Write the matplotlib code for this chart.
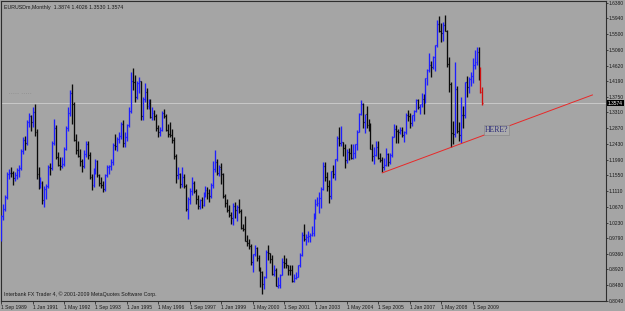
import matplotlib.pyplot as plt
import matplotlib.transforms as mtransforms
import numpy as np
import pandas as pd

# EURUSD monthly bars, Sep 1989 .. Feb 2010
first_month = "1989-09-01"

opens = [
    0.985, 1.040, 1.062, 1.095,
    1.158, 1.163, 1.162, 1.148, 1.157, 1.170, 1.175, 1.222, 1.255, 1.245, 1.303, 1.320,
    1.304, 1.332, 1.275, 1.158, 1.132, 1.135, 1.085, 1.118, 1.125, 1.178, 1.175, 1.245,
    1.287, 1.207, 1.185, 1.180, 1.187, 1.230, 1.287, 1.330, 1.385, 1.355, 1.255, 1.225,
    1.210, 1.195, 1.180, 1.215, 1.243, 1.212, 1.150, 1.128, 1.168, 1.195, 1.155, 1.135,
    1.128, 1.118, 1.155, 1.178, 1.180, 1.192, 1.240, 1.238, 1.258, 1.265, 1.300, 1.245,
    1.262, 1.295, 1.335, 1.418, 1.415, 1.375, 1.412, 1.418, 1.320, 1.368, 1.387, 1.349,
    1.363, 1.318, 1.330, 1.322, 1.287, 1.275, 1.283, 1.330, 1.322, 1.283, 1.270, 1.268,
    1.255, 1.208, 1.155, 1.158, 1.130, 1.150, 1.124, 1.062, 1.088, 1.110, 1.135, 1.112,
    1.088, 1.070, 1.085, 1.072, 1.100, 1.115, 1.105, 1.098, 1.128, 1.172, 1.192, 1.162,
    1.1790, 1.1575, 1.0985, 1.0770, 1.0575, 1.0430, 1.0345, 1.0695, 1.0590, 1.0660, 1.0565, 1.0085,
    1.0040, 0.9705, 0.9650, 0.9570, 0.9115, 0.9345, 0.9525, 0.9225, 0.8890, 0.8835, 0.8500, 0.8695,
    0.9395, 0.9370, 0.9220, 0.8785, 0.8895, 0.8465, 0.8485, 0.8765, 0.9120, 0.9110, 0.9045, 0.8905,
    0.8900, 0.8595, 0.8690, 0.8720, 0.9030, 0.9330, 0.9885, 0.9775, 0.9825, 0.9865, 0.9880, 0.9925,
    1.0485, 1.0740, 1.0785, 1.0910, 1.1170, 1.1805, 1.1505, 1.1240, 1.0975, 1.1660, 1.1580, 1.1995,
    1.2595, 1.2460, 1.2470, 1.2315, 1.1975, 1.2195, 1.2175, 1.2025, 1.2170, 1.2435, 1.2760, 1.3260,
    1.3555, 1.3035, 1.3255, 1.2960, 1.2880, 1.2300, 1.2095, 1.2125, 1.2335, 1.2025, 1.1990, 1.1790,
    1.1840, 1.2155, 1.1920, 1.2120, 1.2625, 1.2835, 1.2790, 1.2765, 1.2810, 1.2675, 1.2760, 1.3250,
    1.3200, 1.3005, 1.3225, 1.3355, 1.3655, 1.3450, 1.3540, 1.3690, 1.3620, 1.4265, 1.4485, 1.4635,
    1.4585, 1.4860, 1.5185, 1.5785, 1.5600, 1.5545, 1.5760, 1.5600, 1.4670, 1.4095, 1.2735, 1.2700,
    1.3970, 1.2800, 1.2670, 1.3250, 1.3235, 1.4150, 1.4035, 1.4255, 1.4335, 1.4640, 1.4715, 1.4995,
    1.4320, 1.3874,
]
highs = [
    1.045, 1.075, 1.100, 1.165,
    1.172, 1.178, 1.168, 1.165, 1.175, 1.185, 1.228, 1.262, 1.265, 1.310, 1.330, 1.325,
    1.345, 1.354, 1.285, 1.178, 1.150, 1.140, 1.125, 1.130, 1.185, 1.190, 1.250, 1.312,
    1.295, 1.220, 1.205, 1.205, 1.235, 1.292, 1.345, 1.395, 1.411, 1.360, 1.270, 1.250,
    1.230, 1.200, 1.225, 1.250, 1.252, 1.220, 1.160, 1.175, 1.200, 1.198, 1.160, 1.150,
    1.138, 1.160, 1.185, 1.185, 1.200, 1.245, 1.272, 1.262, 1.275, 1.305, 1.310, 1.275,
    1.300, 1.345, 1.445, 1.455, 1.435, 1.420, 1.430, 1.420, 1.375, 1.412, 1.400, 1.370,
    1.368, 1.345, 1.338, 1.328, 1.295, 1.290, 1.335, 1.342, 1.328, 1.298, 1.305, 1.285,
    1.262, 1.215, 1.178, 1.162, 1.178, 1.160, 1.130, 1.095, 1.120, 1.150, 1.140, 1.118,
    1.100, 1.090, 1.095, 1.108, 1.125, 1.122, 1.118, 1.135, 1.195, 1.225, 1.200, 1.185,
    1.1905, 1.1610, 1.1015, 1.0880, 1.0725, 1.0530, 1.0765, 1.0815, 1.0715, 1.0880, 1.0595, 1.0190,
    1.0415, 0.9880, 0.9780, 0.9640, 0.9360, 0.9600, 0.9550, 0.9315, 0.9000, 0.8885, 0.8730, 0.9470,
    0.9595, 0.9390, 0.9330, 0.9050, 0.8945, 0.8700, 0.8800, 0.9245, 0.9335, 0.9225, 0.9050, 0.9045,
    0.9030, 0.8785, 0.8855, 0.9045, 0.9385, 0.9965, 1.0195, 0.9910, 0.9985, 0.9945, 1.0140, 1.0495,
    1.0880, 1.0935, 1.1080, 1.1220, 1.1930, 1.1935, 1.1640, 1.1425, 1.1670, 1.1835, 1.2015, 1.2645,
    1.2900, 1.2930, 1.2480, 1.2425, 1.2285, 1.2325, 1.2430, 1.2415, 1.2435, 1.2810, 1.3305, 1.3665,
    1.3585, 1.3275, 1.3485, 1.3125, 1.3010, 1.2420, 1.2330, 1.2525, 1.2505, 1.2175, 1.2065, 1.2040,
    1.2320, 1.2185, 1.2185, 1.2645, 1.2980, 1.2950, 1.2845, 1.2910, 1.2915, 1.2795, 1.3285, 1.3365,
    1.3285, 1.3240, 1.3375, 1.3680, 1.3680, 1.3550, 1.3850, 1.3815, 1.4280, 1.4525, 1.4965, 1.4760,
    1.4880, 1.5210, 1.5905, 1.6020, 1.5820, 1.5840, 1.6038, 1.5615, 1.4865, 1.4165, 1.3080, 1.4719,
    1.4050, 1.3055, 1.3740, 1.3480, 1.4165, 1.4340, 1.4305, 1.4445, 1.4845, 1.5060, 1.5144, 1.5135,
    1.4580, 1.4026,
]
lows = [
    0.972, 1.030, 1.055, 1.090,
    1.145, 1.150, 1.128, 1.140, 1.145, 1.150, 1.170, 1.215, 1.225, 1.240, 1.290, 1.280,
    1.290, 1.265, 1.145, 1.118, 1.120, 1.075, 1.066, 1.090, 1.120, 1.155, 1.170, 1.240,
    1.200, 1.180, 1.170, 1.175, 1.180, 1.225, 1.280, 1.320, 1.300, 1.250, 1.215, 1.205,
    1.180, 1.165, 1.175, 1.205, 1.200, 1.145, 1.115, 1.122, 1.160, 1.150, 1.125, 1.120,
    1.108, 1.110, 1.150, 1.160, 1.170, 1.185, 1.225, 1.222, 1.245, 1.258, 1.235, 1.235,
    1.252, 1.290, 1.330, 1.395, 1.360, 1.370, 1.385, 1.310, 1.310, 1.360, 1.340, 1.340,
    1.315, 1.310, 1.310, 1.280, 1.262, 1.265, 1.278, 1.315, 1.280, 1.262, 1.262, 1.245,
    1.200, 1.135, 1.145, 1.120, 1.122, 1.120, 1.055, 1.034, 1.075, 1.100, 1.105, 1.075,
    1.062, 1.060, 1.065, 1.068, 1.095, 1.088, 1.080, 1.092, 1.120, 1.165, 1.155, 1.152,
    1.1320, 1.0920, 1.0675, 1.0530, 1.0395, 1.0185, 1.0165, 1.0355, 1.0275, 1.0485, 1.0050, 0.9995,
    0.9700, 0.9570, 0.9500, 0.9050, 0.8845, 0.9290, 0.9160, 0.8880, 0.8440, 0.8225, 0.8380, 0.8665,
    0.9180, 0.9085, 0.8770, 0.8735, 0.8445, 0.8385, 0.8410, 0.8755, 0.8970, 0.8950, 0.8760, 0.8765,
    0.8575, 0.8565, 0.8660, 0.8700, 0.8990, 0.9285, 0.9700, 0.9610, 0.9690, 0.9695, 0.9860, 0.9860,
    1.0335, 1.0690, 1.0500, 1.0625, 1.1130, 1.1400, 1.1100, 1.0765, 1.0895, 1.1470, 1.1410, 1.1955,
    1.2380, 1.2360, 1.2085, 1.1760, 1.1905, 1.1990, 1.2010, 1.2005, 1.2045, 1.2265, 1.2750, 1.3240,
    1.2865, 1.2725, 1.2875, 1.2800, 1.2300, 1.1955, 1.1865, 1.2105, 1.2000, 1.1915, 1.1640, 1.1700,
    1.1800, 1.1820, 1.1880, 1.2065, 1.2630, 1.2455, 1.2455, 1.2705, 1.2620, 1.2480, 1.2705, 1.3080,
    1.2865, 1.2935, 1.3065, 1.3310, 1.3410, 1.3255, 1.3475, 1.3260, 1.3580, 1.4075, 1.4440, 1.4310,
    1.4515, 1.4470, 1.5150, 1.5550, 1.5285, 1.5300, 1.5590, 1.4580, 1.3880, 1.2330, 1.2420, 1.2625,
    1.2740, 1.2500, 1.2455, 1.2885, 1.3160, 1.3745, 1.3845, 1.4050, 1.4130, 1.4515, 1.4640, 1.4215,
    1.3860, 1.3530,
]
closes = [
    1.040, 1.062, 1.095, 1.158,
    1.163, 1.162, 1.148, 1.157, 1.170, 1.175, 1.222, 1.255, 1.245, 1.303, 1.320, 1.304,
    1.332, 1.275, 1.158, 1.132, 1.135, 1.085, 1.118, 1.125, 1.178, 1.175, 1.245, 1.287,
    1.207, 1.185, 1.180, 1.187, 1.230, 1.287, 1.330, 1.385, 1.355, 1.255, 1.225, 1.210,
    1.195, 1.180, 1.215, 1.243, 1.212, 1.150, 1.128, 1.168, 1.195, 1.155, 1.135, 1.128,
    1.118, 1.155, 1.178, 1.180, 1.192, 1.240, 1.238, 1.258, 1.265, 1.300, 1.245, 1.262,
    1.295, 1.335, 1.418, 1.415, 1.375, 1.412, 1.418, 1.320, 1.368, 1.387, 1.349, 1.363,
    1.318, 1.330, 1.322, 1.287, 1.275, 1.283, 1.330, 1.322, 1.283, 1.270, 1.268, 1.255,
    1.208, 1.155, 1.158, 1.130, 1.150, 1.124, 1.062, 1.088, 1.110, 1.135, 1.112, 1.088,
    1.070, 1.085, 1.072, 1.100, 1.115, 1.105, 1.098, 1.128, 1.172, 1.192, 1.162, 1.172,
    1.1575, 1.0985, 1.0770, 1.0575, 1.0430, 1.0345, 1.0695, 1.0590, 1.0660, 1.0565, 1.0085, 1.0040,
    0.9705, 0.9650, 0.9570, 0.9115, 0.9345, 0.9525, 0.9225, 0.8890, 0.8835, 0.8500, 0.8695, 0.9395,
    0.9370, 0.9220, 0.8785, 0.8895, 0.8465, 0.8485, 0.8765, 0.9120, 0.9110, 0.9045, 0.8905, 0.8900,
    0.8595, 0.8690, 0.8720, 0.9030, 0.9330, 0.9885, 0.9775, 0.9825, 0.9865, 0.9880, 0.9925, 1.0485,
    1.0740, 1.0785, 1.0910, 1.1170, 1.1805, 1.1505, 1.1240, 1.0975, 1.1660, 1.1580, 1.1995, 1.2595,
    1.2460, 1.2470, 1.2315, 1.1975, 1.2195, 1.2175, 1.2025, 1.2170, 1.2435, 1.2760, 1.3260, 1.3555,
    1.3035, 1.3255, 1.2960, 1.2880, 1.2300, 1.2095, 1.2125, 1.2335, 1.2025, 1.1990, 1.1790, 1.1840,
    1.2155, 1.1920, 1.2120, 1.2625, 1.2835, 1.2790, 1.2765, 1.2810, 1.2675, 1.2760, 1.3250, 1.3200,
    1.3005, 1.3225, 1.3355, 1.3655, 1.3450, 1.3540, 1.3690, 1.3620, 1.4265, 1.4485, 1.4635, 1.4585,
    1.4860, 1.5185, 1.5785, 1.5600, 1.5545, 1.5760, 1.5600, 1.4670, 1.4095, 1.2735, 1.2700, 1.3970,
    1.2800, 1.2670, 1.3250, 1.3235, 1.4150, 1.4035, 1.4255, 1.4335, 1.4640, 1.4715, 1.4995, 1.4320,
    1.3870, 1.3574,
]

# price scale labels on the right
price_labels = ["1.6380", "1.5940", "1.5500", "1.5060", "1.4620", "1.4190", "1.3750",
                "1.3310", "1.2870", "1.2430", "1.1990", "1.1550", "1.1110", "1.0670",
                "1.0230", "0.9790", "0.9360", "0.8920", "0.8480", "0.8040"]
date_label_step = 16
n_marked = 2  # last bars drawn in red

# trend line (month index, price)
trend_x = [194, 301]
trend_y = [1.1620, 1.3800]
note_text = "HERE?"
note_x, note_y = 252.2, 1.2815

header = "EURUSDm,Monthly  1.3874 1.4026 1.3530 1.3574"
footer = "Interbank FX Trader 4, \u00a9 2001-2009 MetaQuotes Software Corp."

BG = "#A5A5A5"
UP = "#1E1EFF"
DOWN = "#0A0A0A"
MARK = "#D01010"
TXT = "#1A1A1A"

plt.rcParams["font.family"] = ["Liberation Sans", "DejaVu Sans"]

o = np.array(opens); h = np.array(highs); l = np.array(lows); c = np.array(closes)
x = np.arange(len(c))
months = pd.date_range(first_month, periods=len(c), freq="MS")

colors = np.where(c >= o, UP, DOWN).astype(object)
colors[-n_marked:] = MARK

fig = plt.figure(figsize=(6.25, 3.11), dpi=100)
fig.patch.set_facecolor(BG)
ax = fig.add_axes([1 / 625, 10 / 311, 605 / 625, 300 / 311])
ax.set_facecolor(BG)

# bid line
ax.axhline(c[-1], color="#C9C9C9", lw=0.7, zorder=1)

ax.vlines(x, l, h, colors=colors, lw=0.95, zorder=3)
ax.hlines(o, x - 0.45, x, colors=colors, lw=0.85, zorder=3)
ax.hlines(c, x, x + 0.45, colors=colors, lw=0.85, zorder=3)

ax.plot(trend_x, trend_y, color="#E82828", lw=0.7, zorder=4)
ax.text(note_x, note_y, note_text, ha="center", va="center", fontsize=5.6,
        family=["Liberation Serif", "DejaVu Serif"], color="#2A2A78", zorder=5,
        bbox=dict(boxstyle="square,pad=0.12", fc="#ABABAB", ec="#8A8A8A", lw=0.5))

ax.set_xlim(-0.1, 307.9)
ax.set_ylim(0.8035, 1.6428)

# axes / ticks
for side in ["left", "top", "right", "bottom"]:
    ax.spines[side].set_color("#2E2E2E")
    ax.spines[side].set_linewidth(0.8)
ax.yaxis.tick_right()
ax.set_yticks([float(v) for v in price_labels], price_labels)
ax.tick_params(axis="y", length=1.6, width=0.6, color="#2E2E2E", labelsize=3.5,
               labelcolor=TXT, pad=0.6)
xt = x[::date_label_step]
ax.set_xticks(xt, [f"{d.day} {d.strftime('%b %Y')}" for d in months[::date_label_step]])
ax.tick_params(axis="x", length=2, width=0.6, color="#2E2E2E", labelsize=3.6,
               labelcolor=TXT, pad=1)
for t in ax.get_xticklabels():
    t.set_ha("left")

# current price box on the scale
trans = mtransforms.blended_transform_factory(ax.transAxes, ax.transData)
ax.text(1.003, c[-1], f"{c[-1]:.4f}", transform=trans, ha="left", va="center",
        fontsize=3.5, color="white", clip_on=False,
        bbox=dict(boxstyle="square,pad=0.2", fc="black", ec="none"))

ax.text(0.005, 0.985, header, transform=ax.transAxes, ha="left", va="top",
        fontsize=3.8, color=TXT)
ax.text(0.005, 0.012, footer, transform=ax.transAxes, ha="left", va="bottom",
        fontsize=3.8, color=TXT)
ax.text(4, 1.383, "- - - - -   - - - - -", fontsize=2.5, color="#6A6A6A")

fig.savefig("out.png", dpi=100, facecolor=BG)
